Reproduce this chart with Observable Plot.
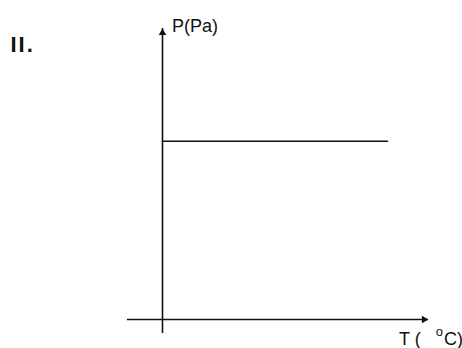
<!DOCTYPE html>
<html><head><meta charset="utf-8">
<script src="https://cdn.jsdelivr.net/npm/d3@7"></script>
<script src="https://cdn.jsdelivr.net/npm/@observablehq/plot@0.6"></script>
<style>html,body{margin:0;padding:0;background:#fff;} svg{display:block}</style>
</head><body><div id="chart"></div>
<script>
// Labels
const panelLabel = "II.";
const yLabel = "P(Pa)";
const xLabelParts = ["T (\u00a0\u00a0\u00a0", "o", "C)"];
// Isobar: constant pressure across the temperature range (arbitrary units)
const isobarT = [0, 10];
const isobarP = [1, 1];
// Axis extents in data units (including the part below/left of the origin)
const tAxisExtent = [-1.56, 11.82];
const pAxisExtent = [-0.079, 1.632];

const isobar = isobarT.map((t, i) => ({T: t, P: isobarP[i]}));
const tAxis = [{x1: tAxisExtent[0], x2: tAxisExtent[1], y: 0}];
const pAxis = [{y1: pAxisExtent[0], y2: pAxisExtent[1], x: 0}];
const tTip = [{x: tAxisExtent[1], y: 0}];
const pTip = [{x: 0, y: pAxisExtent[1]}];
const ink = "#111";
const xLabelText = xLabelParts.join("");

const plot = Plot.plot({
  width: 462, height: 348, margin: 0,
  x: {domain: [0, 10], range: [162, 387], axis: null},
  y: {domain: [0, 1], range: [319, 140.7], axis: null},
  style: {fontFamily: '"Liberation Sans", Arial, sans-serif', color: ink, background: "#fff"},
  marks: [
    Plot.ruleY(tAxis, {x1: "x1", x2: "x2", y: "y", stroke: ink, strokeWidth: 1.6}),
    Plot.ruleX(pAxis, {y1: "y1", y2: "y2", x: "x", stroke: ink, strokeWidth: 1.6}),
    Plot.line(isobar, {x: "T", y: "P", stroke: ink, strokeWidth: 1.6}),
    Plot.dot(tTip, {x: "x", y: "y", symbol: "triangle", rotate: 90, r: 2.8, fill: ink, dx: -4.4}),
    Plot.dot(pTip, {x: "x", y: "y", symbol: "triangle", r: 2.8, fill: ink, dy: 4.4}),
    Plot.text(pTip, {x: "x", y: "y", text: () => yLabel, textAnchor: "start", dx: 9.6, dy: -1.8, fontSize: 18, fill: ink}),
    Plot.text(tTip, {x: "x", y: "y", text: () => xLabelText, textAnchor: "start", dx: -29.4, dy: 20.2, fontSize: 18, fill: ink}),
    Plot.text([panelLabel], {frameAnchor: "top-left", text: d => d, textAnchor: "start", dx: 10, dy: 36, fontSize: 22, fontWeight: "bold", fill: ink})
  ]
});

const svg = d3.select(plot);
svg.selectAll("text").filter(function () { return this.textContent === panelLabel; })
  .attr("letter-spacing", 2);
svg.selectAll("text").filter(function () { return this.textContent === xLabelText; })
  .each(function () {
    const t = d3.select(this);
    t.text(null);
    t.append("tspan").text(xLabelParts[0]);
    t.append("tspan").attr("font-size", 13).attr("dy", -9).text(xLabelParts[1]);
    t.append("tspan").attr("dy", 9).attr("dx", 1).text(xLabelParts[2]);
  });

document.getElementById("chart").append(plot);
</script>
</body></html>
